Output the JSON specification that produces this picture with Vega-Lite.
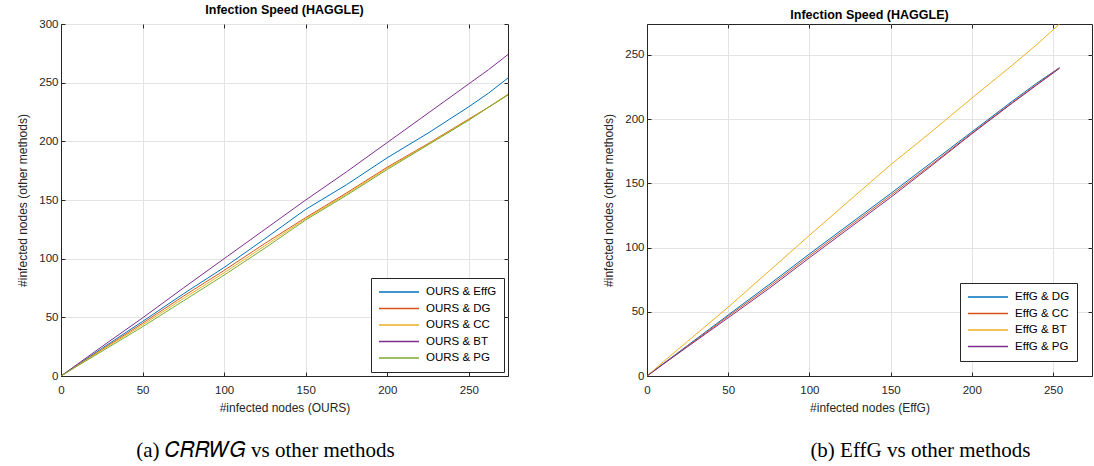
{
  "$schema": "https://vega.github.io/schema/vega-lite/v6.json",
  "padding": {"left": 15, "top": 3, "right": 0, "bottom": 0},
  "background": "white",
  "config": {
    "font": "Liberation Sans",
    "view": {"stroke": "#262626", "strokeWidth": 1},
    "axis": {"domainColor": "#262626", "tickColor": "#262626", "labelColor": "#262626", "titleColor": "#262626", "gridColor": "#e3e3e3", "labelFontSize": 11.5, "titleFontSize": 12, "titleFontWeight": "normal", "tickSize": -4, "labelFlush": false},
    "axisX": {"labelPadding": 12, "titlePadding": 7},
    "axisY": {"labelPadding": 7, "titlePadding": 9.5},
    "title": {"fontSize": 12.5, "fontWeight": "bold", "color": "#000000", "offset": 2},
    "legend": {"labelFontSize": 11.5, "labelColor": "#000000", "symbolType": "stroke", "symbolSize": 1600, "symbolStrokeWidth": 1.5, "strokeColor": "#262626", "fillColor": "white", "padding": 7, "rowPadding": 2.5, "labelOffset": 6, "clipHeight": 14, "cornerRadius": 0},
    "concat": {"spacing": 92}
  },
  "datasets": {
    "a": [
      {"method": "OURS & EffG", "x": 0, "y": 0}, {"method": "OURS & EffG", "x": 10, "y": 9.3}, {"method": "OURS & EffG", "x": 25, "y": 23.5}, {"method": "OURS & EffG", "x": 50, "y": 46.5}, {"method": "OURS & EffG", "x": 75, "y": 70}, {"method": "OURS & EffG", "x": 100, "y": 92.5}, {"method": "OURS & EffG", "x": 125, "y": 117}, {"method": "OURS & EffG", "x": 150, "y": 142}, {"method": "OURS & EffG", "x": 175, "y": 163}, {"method": "OURS & EffG", "x": 200, "y": 186}, {"method": "OURS & EffG", "x": 225, "y": 207}, {"method": "OURS & EffG", "x": 250, "y": 229.5}, {"method": "OURS & EffG", "x": 262, "y": 241}, {"method": "OURS & EffG", "x": 274, "y": 254},
      {"method": "OURS & DG", "x": 0, "y": 0}, {"method": "OURS & DG", "x": 10, "y": 9}, {"method": "OURS & DG", "x": 25, "y": 22.5}, {"method": "OURS & DG", "x": 50, "y": 45}, {"method": "OURS & DG", "x": 75, "y": 68}, {"method": "OURS & DG", "x": 100, "y": 90}, {"method": "OURS & DG", "x": 125, "y": 113}, {"method": "OURS & DG", "x": 150, "y": 135}, {"method": "OURS & DG", "x": 175, "y": 156}, {"method": "OURS & DG", "x": 200, "y": 178}, {"method": "OURS & DG", "x": 225, "y": 198}, {"method": "OURS & DG", "x": 250, "y": 219}, {"method": "OURS & DG", "x": 262, "y": 229}, {"method": "OURS & DG", "x": 274, "y": 240},
      {"method": "OURS & CC", "x": 0, "y": 0}, {"method": "OURS & CC", "x": 10, "y": 8.8}, {"method": "OURS & CC", "x": 25, "y": 22}, {"method": "OURS & CC", "x": 50, "y": 43.6}, {"method": "OURS & CC", "x": 75, "y": 66}, {"method": "OURS & CC", "x": 100, "y": 88}, {"method": "OURS & CC", "x": 125, "y": 111}, {"method": "OURS & CC", "x": 150, "y": 134}, {"method": "OURS & CC", "x": 175, "y": 155}, {"method": "OURS & CC", "x": 200, "y": 177}, {"method": "OURS & CC", "x": 225, "y": 197.5}, {"method": "OURS & CC", "x": 250, "y": 218.5}, {"method": "OURS & CC", "x": 262, "y": 229}, {"method": "OURS & CC", "x": 274, "y": 240},
      {"method": "OURS & BT", "x": 0, "y": 0}, {"method": "OURS & BT", "x": 10, "y": 10}, {"method": "OURS & BT", "x": 25, "y": 25}, {"method": "OURS & BT", "x": 50, "y": 49.5}, {"method": "OURS & BT", "x": 75, "y": 75}, {"method": "OURS & BT", "x": 100, "y": 100}, {"method": "OURS & BT", "x": 125, "y": 125}, {"method": "OURS & BT", "x": 150, "y": 150}, {"method": "OURS & BT", "x": 175, "y": 174}, {"method": "OURS & BT", "x": 200, "y": 199}, {"method": "OURS & BT", "x": 225, "y": 224}, {"method": "OURS & BT", "x": 250, "y": 249}, {"method": "OURS & BT", "x": 262, "y": 261}, {"method": "OURS & BT", "x": 274, "y": 274},
      {"method": "OURS & PG", "x": 0, "y": 0}, {"method": "OURS & PG", "x": 10, "y": 8.5}, {"method": "OURS & PG", "x": 25, "y": 21}, {"method": "OURS & PG", "x": 50, "y": 42}, {"method": "OURS & PG", "x": 75, "y": 64}, {"method": "OURS & PG", "x": 100, "y": 86}, {"method": "OURS & PG", "x": 125, "y": 109}, {"method": "OURS & PG", "x": 150, "y": 133}, {"method": "OURS & PG", "x": 175, "y": 154}, {"method": "OURS & PG", "x": 200, "y": 176}, {"method": "OURS & PG", "x": 225, "y": 197}, {"method": "OURS & PG", "x": 250, "y": 218}, {"method": "OURS & PG", "x": 262, "y": 229}, {"method": "OURS & PG", "x": 274, "y": 239.5}
    ],
    "b": [
      {"method": "EffG & DG", "x": 0, "y": 0}, {"method": "EffG & DG", "x": 10, "y": 9.6}, {"method": "EffG & DG", "x": 25, "y": 23.8}, {"method": "EffG & DG", "x": 50, "y": 47.5}, {"method": "EffG & DG", "x": 75, "y": 71}, {"method": "EffG & DG", "x": 100, "y": 95}, {"method": "EffG & DG", "x": 125, "y": 118.5}, {"method": "EffG & DG", "x": 150, "y": 142}, {"method": "EffG & DG", "x": 175, "y": 166}, {"method": "EffG & DG", "x": 200, "y": 190}, {"method": "EffG & DG", "x": 225, "y": 214}, {"method": "EffG & DG", "x": 240, "y": 228}, {"method": "EffG & DG", "x": 254, "y": 240},
      {"method": "EffG & CC", "x": 0, "y": 0}, {"method": "EffG & CC", "x": 10, "y": 9.4}, {"method": "EffG & CC", "x": 25, "y": 23.3}, {"method": "EffG & CC", "x": 50, "y": 46.5}, {"method": "EffG & CC", "x": 75, "y": 69.5}, {"method": "EffG & CC", "x": 100, "y": 93.5}, {"method": "EffG & CC", "x": 125, "y": 117}, {"method": "EffG & CC", "x": 150, "y": 140.5}, {"method": "EffG & CC", "x": 175, "y": 164.5}, {"method": "EffG & CC", "x": 200, "y": 189}, {"method": "EffG & CC", "x": 225, "y": 213}, {"method": "EffG & CC", "x": 240, "y": 227}, {"method": "EffG & CC", "x": 254, "y": 240},
      {"method": "EffG & BT", "x": 0, "y": 0}, {"method": "EffG & BT", "x": 10, "y": 11}, {"method": "EffG & BT", "x": 25, "y": 27}, {"method": "EffG & BT", "x": 50, "y": 53.6}, {"method": "EffG & BT", "x": 75, "y": 81.5}, {"method": "EffG & BT", "x": 100, "y": 109.5}, {"method": "EffG & BT", "x": 125, "y": 137}, {"method": "EffG & BT", "x": 150, "y": 164.4}, {"method": "EffG & BT", "x": 175, "y": 190}, {"method": "EffG & BT", "x": 200, "y": 216.3}, {"method": "EffG & BT", "x": 225, "y": 242}, {"method": "EffG & BT", "x": 240, "y": 258}, {"method": "EffG & BT", "x": 254, "y": 274},
      {"method": "EffG & PG", "x": 0, "y": 0}, {"method": "EffG & PG", "x": 10, "y": 9.2}, {"method": "EffG & PG", "x": 25, "y": 22.8}, {"method": "EffG & PG", "x": 50, "y": 45.3}, {"method": "EffG & PG", "x": 75, "y": 68}, {"method": "EffG & PG", "x": 100, "y": 92}, {"method": "EffG & PG", "x": 125, "y": 115.5}, {"method": "EffG & PG", "x": 150, "y": 139}, {"method": "EffG & PG", "x": 175, "y": 163.5}, {"method": "EffG & PG", "x": 200, "y": 188.5}, {"method": "EffG & PG", "x": 225, "y": 212.5}, {"method": "EffG & PG", "x": 240, "y": 226.5}, {"method": "EffG & PG", "x": 254, "y": 239.5}
    ]
  },
  "resolve": {"scale": {"color": "independent", "x": "independent", "y": "independent"}, "legend": {"color": "independent"}},
  "hconcat": [
    {
      "title": {"text": "(a) 𝐶𝑅𝑅𝑊𝐺 vs other methods", "orient": "bottom", "anchor": "middle", "font": "Liberation Serif", "fontSize": 21, "fontWeight": "normal", "color": "#000000", "offset": 26, "dx": 3},
      "resolve": {"scale": {"color": "independent"}, "legend": {"color": "independent"}},
      "vconcat": [
        {
          "width": 447,
          "height": 352,
          "title": "Infection Speed (HAGGLE)",
          "data": {"name": "a"},
          "resolve": {"axis": {"x": "independent", "y": "independent"}},
          "layer": [
            {
              "mark": {"type": "line", "strokeWidth": 1, "clip": true},
              "encoding": {
                "x": {"field": "x", "type": "quantitative", "scale": {"domain": [0, 274], "nice": false}, "axis": {"title": "#infected nodes (OURS)", "values": [0, 50, 100, 150, 200, 250]}},
                "y": {"field": "y", "type": "quantitative", "scale": {"domain": [0, 300], "nice": false}, "axis": {"title": "#infected nodes (other methods)", "values": [0, 50, 100, 150, 200, 250, 300]}},
                "color": {"field": "method", "type": "nominal", "scale": {"domain": ["OURS & EffG", "OURS & DG", "OURS & CC", "OURS & BT", "OURS & PG"], "range": ["#0072BD", "#D95319", "#EDB120", "#7E2F8E", "#77AC30"]}, "legend": {"title": null, "orient": "bottom-right", "offset": 4}}
              }
            },
            {
              "mark": {"type": "line", "opacity": 0},
              "encoding": {
                "detail": {"field": "method"},
                "x": {"field": "x", "type": "quantitative", "axis": {"orient": "top", "title": null, "labels": false, "grid": false, "domain": false, "values": [0, 50, 100, 150, 200, 250]}},
                "y": {"field": "y", "type": "quantitative", "axis": {"orient": "right", "title": null, "labels": false, "grid": false, "domain": false, "values": [0, 50, 100, 150, 200, 250, 300]}}
              }
            }
          ]
        }
      ]
    },
    {
      "title": {"text": "(b) EffG vs other methods", "orient": "bottom", "anchor": "middle", "font": "Liberation Serif", "fontSize": 21, "fontWeight": "normal", "color": "#000000", "offset": 26, "dx": 73},
      "resolve": {"scale": {"color": "independent"}, "legend": {"color": "independent"}},
      "vconcat": [
        {
          "width": 445,
          "height": 352,
          "title": "Infection Speed (HAGGLE)",
          "data": {"name": "b"},
          "resolve": {"axis": {"x": "independent", "y": "independent"}},
          "layer": [
            {
              "mark": {"type": "line", "strokeWidth": 1, "clip": true},
              "encoding": {
                "x": {"field": "x", "type": "quantitative", "scale": {"domain": [0, 274], "nice": false}, "axis": {"title": "#infected nodes (EffG)", "values": [0, 50, 100, 150, 200, 250]}},
                "y": {"field": "y", "type": "quantitative", "scale": {"domain": [0, 274], "nice": false}, "axis": {"title": "#infected nodes (other methods)", "values": [0, 50, 100, 150, 200, 250]}},
                "color": {"field": "method", "type": "nominal", "scale": {"domain": ["EffG & DG", "EffG & CC", "EffG & BT", "EffG & PG"], "range": ["#0072BD", "#D95319", "#EDB120", "#7E2F8E"]}, "legend": {"title": null, "orient": "bottom-right", "offset": 15}}
              }
            },
            {
              "mark": {"type": "line", "opacity": 0},
              "encoding": {
                "detail": {"field": "method"},
                "x": {"field": "x", "type": "quantitative", "axis": {"orient": "top", "title": null, "labels": false, "grid": false, "domain": false, "values": [0, 50, 100, 150, 200, 250]}},
                "y": {"field": "y", "type": "quantitative", "axis": {"orient": "right", "title": null, "labels": false, "grid": false, "domain": false, "values": [0, 50, 100, 150, 200, 250]}}
              }
            }
          ]
        }
      ]
    }
  ]
}
